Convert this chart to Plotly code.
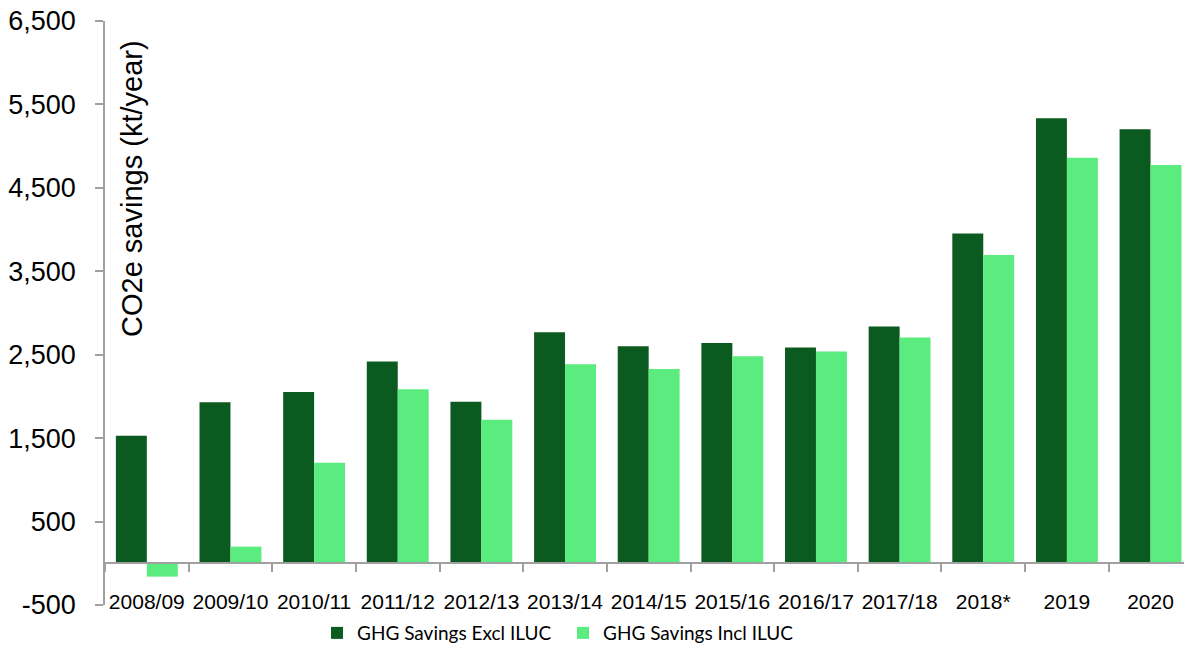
import plotly.graph_objects as go

categories = ["2008/09", "2009/10", "2010/11", "2011/12", "2012/13", "2013/14",
              "2014/15", "2015/16", "2016/17", "2017/18", "2018*", "2019", "2020"]
excl_iluc = [1530, 1930, 2053, 2418, 1937, 2770, 2601, 2641, 2586, 2838, 3954, 5335, 5203]
incl_iluc = [-160, 200, 1205, 2085, 1721, 2385, 2329, 2481, 2538, 2706, 3694, 4862, 4774]
y_ticks = [-500, 500, 1500, 2500, 3500, 4500, 5500, 6500]
y_ticktext = [f"{v:,}" for v in y_ticks]

DARK = "#0B5A20"
LIGHT = "#5BEC80"
GREY = "#A0A0A0"
Y_MIN, Y_MAX = -500, 6500
X_RANGE = [-0.5, len(categories) - 0.6]

fig = go.Figure()
fig.add_trace(go.Bar(x=categories, y=excl_iluc, name="GHG Savings Excl ILUC",
                     marker=dict(color=DARK, line=dict(width=0))))
fig.add_trace(go.Bar(x=categories, y=incl_iluc, name="GHG Savings Incl ILUC",
                     marker=dict(color=LIGHT, line=dict(width=0))))
# carrier trace for the label axis
fig.add_trace(go.Scatter(x=categories, y=[None] * len(categories), xaxis="x2",
                         mode="lines", showlegend=False, hoverinfo="skip"))

zero_pos = (0 - Y_MIN) / (Y_MAX - Y_MIN)

fig.update_layout(
    width=1184, height=646,
    margin=dict(l=105, r=0, t=21, b=41),
    paper_bgcolor="white", plot_bgcolor="white",
    barmode="group", bargap=0.26, bargroupgap=0,
    showlegend=True,
    legend=dict(orientation="h", x=0.1965, xanchor="left",
                yref="container", y=0.0201, yanchor="middle",
                font=dict(family="Lato", size=19, color="black"),
                bgcolor="rgba(0,0,0,0)", traceorder="normal",
                entrywidth=201, entrywidthmode="pixels"),
    xaxis=dict(type="category", range=X_RANGE, anchor="free", position=zero_pos,
               showline=True, linecolor=GREY, linewidth=1.5,
               ticks="outside", tickson="boundaries", ticklen=8, tickcolor=GREY,
               tickwidth=1.5, showticklabels=False, showgrid=False, zeroline=False,
               automargin=False),
    xaxis2=dict(type="category", range=X_RANGE, overlaying="x", anchor="free",
                position=0.031, showline=False, ticks="", showgrid=False,
                zeroline=False, automargin=False, ticklabeloverflow="allow",
                tickfont=dict(family="Liberation Sans, Arial", size=21, color="black")),
    yaxis=dict(range=[Y_MIN, Y_MAX], tickvals=y_ticks, ticktext=y_ticktext,
               showline=True, linecolor=GREY, linewidth=1.5,
               ticks="outside", ticklen=8, tickcolor=GREY, tickwidth=1.5,
               ticklabelstandoff=14, automargin=False, ticklabeloverflow="allow",
               showgrid=False, zeroline=False,
               tickfont=dict(family="Liberation Sans, Arial", size=27, color="black")),
    annotations=[dict(text="CO2e savings (kt/year)", xref="paper", yref="paper",
                      x=0.0255, y=0.971, xanchor="center", yanchor="top",
                      textangle=-90, showarrow=False,
                      font=dict(family="Liberation Sans, Arial", size=29, color="black"))],
)

fig.write_html(
    "out.html",
    config={"displayModeBar": False},
    post_script="document.body.style.margin='0';"
                "document.documentElement.style.overflow='hidden';",
)
